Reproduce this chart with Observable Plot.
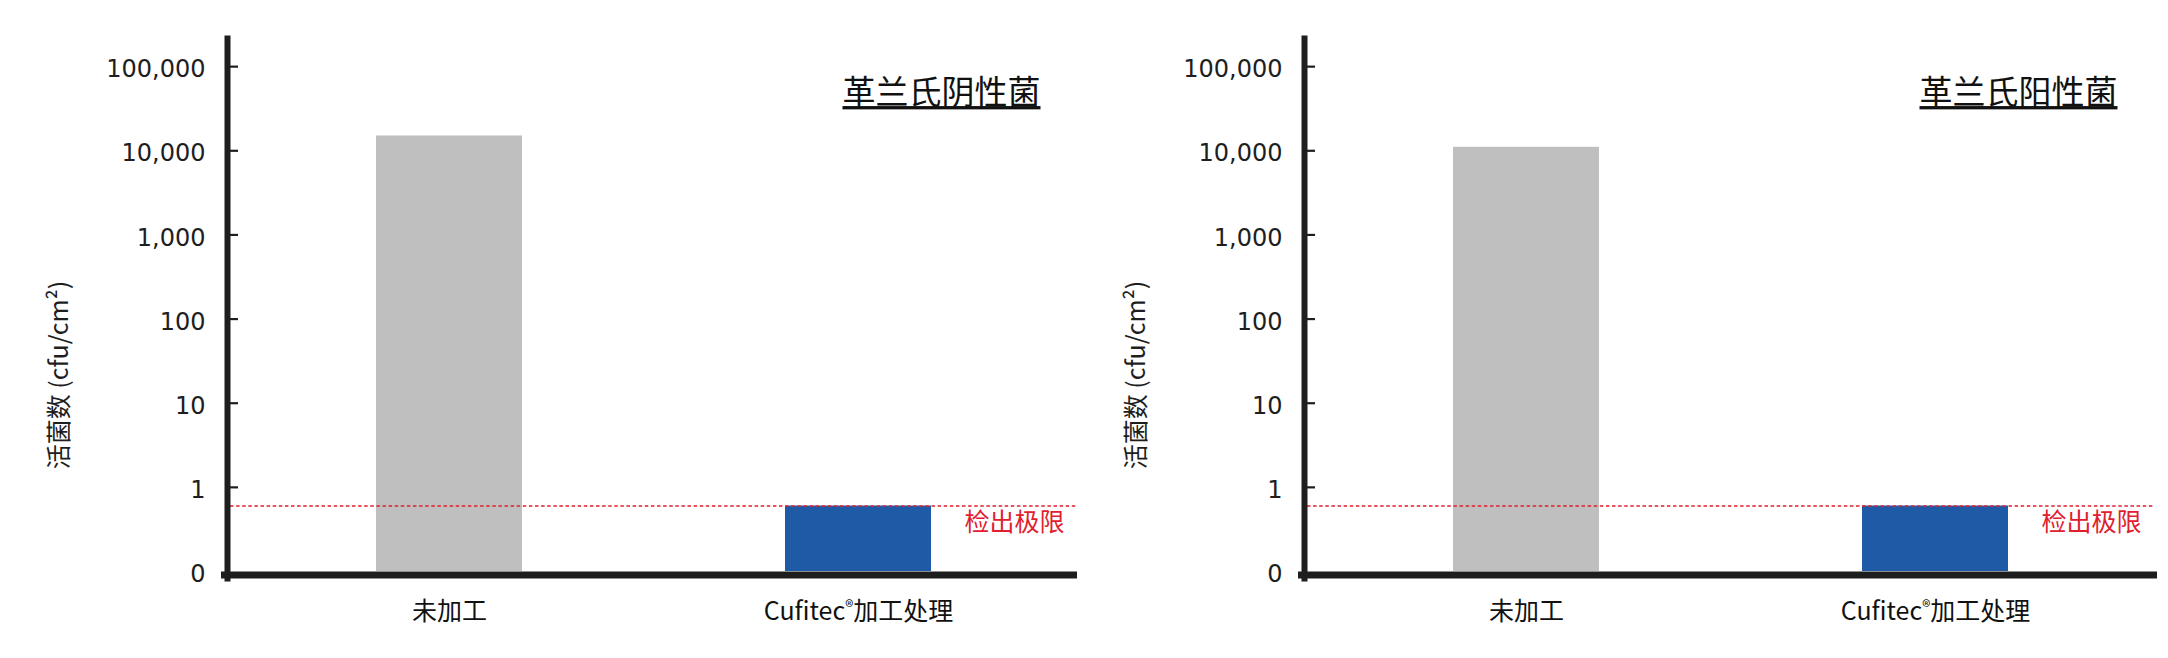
<!DOCTYPE html>
<html>
<head>
<meta charset="utf-8">
<script src="https://cdn.jsdelivr.net/npm/d3@7"></script>
<script src="https://cdn.jsdelivr.net/npm/@observablehq/plot@0.6"></script>
<style>
  html, body { margin: 0; padding: 0; background: #fff; }
  #wrap { display: flex; width: 2168px; height: 658px; background: #fff; }
  #wrap svg { display: block; flex: none; }
</style>
</head>
<body>
<div id="wrap"></div>
<script>
// ---- data ----
const categories = ["未加工", "Cufitec®加工处理"];
const gramNegative = [15000, 0.6];
const gramPositive = [11000, 0.6];
const panelTitles = ["革兰氏阴性菌", "革兰氏阳性菌"];
const barColors = ["#bfbfbf", "#1f5aa6"];
const detectionLimit = 0.6;
const detectionLabel = "检出极限";
const yTicks = [0.1, 1, 10, 100, 1000, 10000, 100000];
const yTickLabels = ["0", "1", "10", "100", "1,000", "10,000", "100,000"];
const yAxisTitle = "活菌数 (cfu/cm²)";
const baseline = 0.1;
const yMax = 216000;

const cjk = '"Noto Sans CJK SC", "Noto Sans", sans-serif';
const ink = "#1e1e1e";
const red = "#e0202e";

function panel(values, title) {
  const data = categories.map((c, i) => ({cat: c, value: values[i], color: barColors[i]}));
  const W = 1077, mL = 230, mR = 1;
  const frameW = W - mL - mR;
  const svg = Plot.plot({
    width: W,
    height: 658,
    marginLeft: mL,
    marginRight: mR,
    marginTop: 38,
    marginBottom: 87,
    style: {fontFamily: cjk, background: "white", color: ink, overflow: "visible"},
    x: {domain: categories, paddingInner: 0.644, paddingOuter: 0.354},
    y: {type: "log", domain: [baseline, yMax]},
    color: {type: "identity"},
    marks: [
      Plot.barY(data, {x: "cat", y1: baseline, y2: "value", fill: "color"}),
      Plot.ruleY([detectionLimit], {stroke: red, strokeWidth: 1.6, strokeDasharray: "3.5,2.6"}),
      Plot.text([detectionLabel], {
        text: d => d, y: () => detectionLimit, frameAnchor: "right",
        textAnchor: "end", lineAnchor: "middle", dx: -12, dy: 17, fontSize: 25, fill: red
      }),
      Plot.text([title], {
        text: d => d, frameAnchor: "top-right", textAnchor: "end", lineAnchor: "middle",
        dx: -36, dy: 55, fontSize: 33, fill: "#111"
      }),
      Plot.text([yAxisTitle], {
        text: d => d, frameAnchor: "left", rotate: -90,
        textAnchor: "middle", lineAnchor: "middle",
        dx: -171, dy: 70, fontSize: 25, fill: ink
      }),
      Plot.axisY(yTicks, {
        tickSize: 0, tickPadding: 25, label: null,
        tickFormat: d => yTickLabels[yTicks.indexOf(d)],
        fontSize: 24, fontFamily: "DejaVu Sans", dy: 3, fill: ink,
        stroke: ink, strokeWidth: 0.5
      }),
      Plot.tickY(yTicks.filter(d => d !== baseline), {
        y: d => d, stroke: ink, strokeWidth: 2.2, insetRight: frameW - 8
      }),
      Plot.axisX({
        tickSize: 0, tickPadding: 31, label: null, fontSize: 25, fill: "#111"
      }),
      Plot.frame({anchor: "left", stroke: ink, strokeWidth: 6, dx: -3, insetBottom: -7}),
      Plot.frame({anchor: "bottom", stroke: ink, strokeWidth: 7, dy: 3.5, insetLeft: -6})
    ]
  });
  const s = d3.select(svg);
  s.selectAll("text").filter(function() { return this.textContent === title; })
    .style("text-decoration", "underline")
    .style("text-decoration-thickness", "1.5px");
  s.selectAll("text").filter(function() { return this.textContent.includes("®") && this.childElementCount === 0; })
    .each(function() {
      const t = d3.select(this);
      const parts = this.textContent.split("®");
      t.text("");
      t.append("tspan").text(parts[0]);
      t.append("tspan").attr("font-size", 17).attr("baseline-shift", 7).text("®");
      t.append("tspan").text(parts[1]);
    });
  return svg;
}

const wrap = document.getElementById("wrap");
wrap.appendChild(panel(gramNegative, panelTitles[0]));
wrap.appendChild(panel(gramPositive, panelTitles[1]));
</script>
</body>
</html>
